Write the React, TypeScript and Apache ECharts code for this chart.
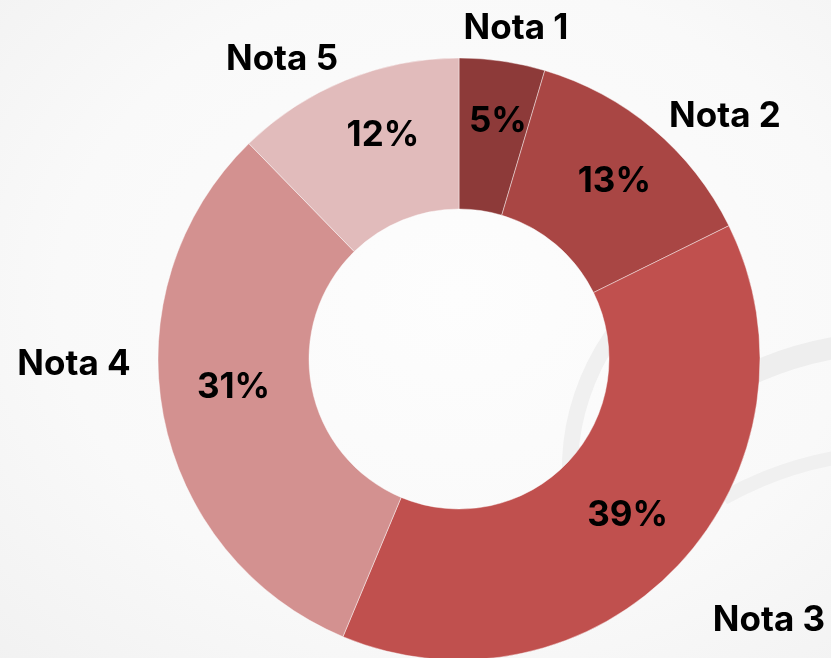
import React, { useEffect, useRef } from "react";
import * as echarts from "echarts";

const categories = ["Nota 1", "Nota 2", "Nota 3", "Nota 4", "Nota 5"];
const values = [4.6, 13.1, 38.6, 31.4, 12.3];
const colors = ["#8d3a39", "#a94644", "#c0504e", "#d39190", "#e1bbbb"];

// label placement (offsets from pie centre, px) — layout only
const nameOffsets: [number, number][] = [
  [57, -333],
  [266, -245],
  [310, 259],
  [-385, 3],
  [-177, -302],
];
const pctNudges: [number, number][] = [
  [6, -14],
  [8, -5],
  [2, -2],
  [-1, -17],
  [10, -14],
];

const CX = 459;
const CY = 359;
const FONT = "Inter, 'Noto Sans', sans-serif";

export default function App() {
  const ref = useRef<HTMLDivElement>(null);
  useEffect(() => {
    if (!ref.current) return;
    const chart = echarts.init(ref.current, null, { renderer: "svg" });
    const data = categories.map((name, i) => ({
      name,
      value: values[i],
      itemStyle: { color: colors[i] },
    }));
    chart.setOption({
      animation: false,
      backgroundColor: {
        type: "radial",
        x: 0.55,
        y: 0.45,
        r: 0.8,
        colorStops: [
          { offset: 0, color: "#fdfdfd" },
          { offset: 0.6, color: "#f9f9f9" },
          { offset: 1, color: "#f1f1f1" },
        ],
      },
      graphic: [
        {
          type: "arc",
          silent: true,
          z: -10,
          shape: { cx: 805, cy: 470, r: 235, startAngle: Math.PI * 0.95, endAngle: Math.PI * 1.3 },
          style: { stroke: "#f0f0f0", lineWidth: 16, fill: "none" },
        },
        {
          type: "arc",
          silent: true,
          z: -10,
          shape: { cx: 900, cy: 705, r: 363, startAngle: 4.15, endAngle: 4.65 },
          style: { stroke: "#eeeeee", lineWidth: 22, fill: "none" },
        },
        {
          type: "arc",
          silent: true,
          z: -10,
          shape: { cx: 900, cy: 812, r: 360, startAngle: 4.2, endAngle: 4.65 },
          style: { stroke: "#f0f0f0", lineWidth: 14, fill: "none" },
        },
      ],
      series: [
        {
          type: "pie",
          center: [CX, CY],
          radius: [150, 301],
          startAngle: 90,
          clockwise: true,
          avoidLabelOverlap: false,
          itemStyle: { borderColor: "rgba(255,255,255,0.55)", borderWidth: 0.8 },
          label: {
            show: true,
            position: "inside",
            formatter: (p: any) => Math.round(p.percent) + "%",
            fontFamily: FONT,
            fontWeight: "bold",
            fontSize: 35,
            color: "#000",
          },
          labelLayout: (p: any) => ({
            dx: pctNudges[p.dataIndex][0],
            dy: pctNudges[p.dataIndex][1],
          }),
          labelLine: { show: false },
          emphasis: { disabled: true },
          data,
        },
        {
          type: "pie",
          center: [CX, CY],
          radius: [150, 301],
          startAngle: 90,
          silent: true,
          avoidLabelOverlap: false,
          itemStyle: { color: "transparent", borderWidth: 0 },
          label: {
            show: true,
            position: "inside",
            formatter: "{b}",
            fontFamily: FONT,
            fontWeight: "bold",
            fontSize: 35,
            color: "#000",
          },
          labelLayout: (p: any) => ({
            x: CX + nameOffsets[p.dataIndex][0],
            y: CY + nameOffsets[p.dataIndex][1],
            align: "center",
            verticalAlign: "middle",
          }),
          labelLine: { show: false },
          emphasis: { disabled: true },
          data: categories.map((name, i) => ({ name, value: values[i] })),
        },
      ],
    });
    return () => chart.dispose();
  }, []);
  return (
    <div
      ref={ref}
      style={{ position: "fixed", left: 0, top: 0, width: 831, height: 658 }}
    />
  );
}
